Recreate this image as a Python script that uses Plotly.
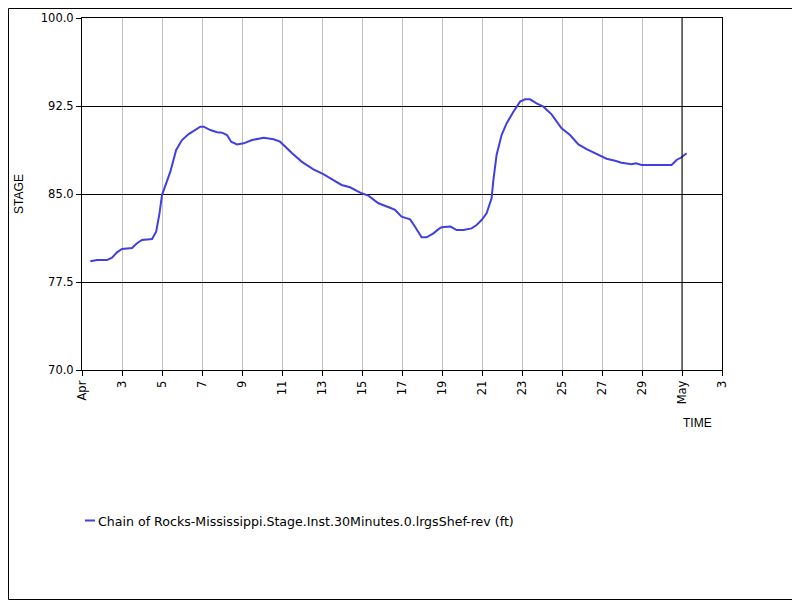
import plotly.graph_objects as go

# stage readings
times = [
    "2024-04-01 10:00", "2024-04-01 18:00", "2024-04-02 06:00", "2024-04-02 12:00",
    "2024-04-02 18:00", "2024-04-03 00:00", "2024-04-03 12:00", "2024-04-03 18:00",
    "2024-04-04 00:00", "2024-04-04 12:00", "2024-04-04 17:00", "2024-04-04 21:00",
    "2024-04-05 00:00", "2024-04-05 06:00", "2024-04-05 10:00", "2024-04-05 17:00",
    "2024-04-06 00:00", "2024-04-06 08:00", "2024-04-06 14:00", "2024-04-06 22:00",
    "2024-04-07 02:00", "2024-04-07 10:00", "2024-04-07 18:00", "2024-04-08 00:00",
    "2024-04-08 06:00", "2024-04-08 11:00", "2024-04-08 18:00", "2024-04-09 02:00",
    "2024-04-09 12:00", "2024-04-10 02:00", "2024-04-10 14:00", "2024-04-10 21:40",
    "2024-04-11 11:30", "2024-04-11 23:30", "2024-04-12 13:40", "2024-04-13 01:40",
    "2024-04-13 13:40", "2024-04-13 23:30", "2024-04-14 09:40", "2024-04-14 23:30",
    "2024-04-15 07:40", "2024-04-15 19:40", "2024-04-16 09:40", "2024-04-16 15:40",
    "2024-04-16 23:30", "2024-04-17 09:40", "2024-04-17 15:40", "2024-04-17 23:30",
    "2024-04-18 05:30", "2024-04-18 13:40", "2024-04-18 21:00", "2024-04-18 23:30",
    "2024-04-19 10:20", "2024-04-19 17:30", "2024-04-20 01:40", "2024-04-20 11:30",
    "2024-04-20 17:30", "2024-04-20 23:30", "2024-04-21 05:30", "2024-04-21 11:30",
    "2024-04-21 13:40", "2024-04-21 17:30", "2024-04-21 23:30", "2024-04-22 05:30",
    "2024-04-22 13:40", "2024-04-22 21:40", "2024-04-23 03:40", "2024-04-23 09:40",
    "2024-04-23 17:30", "2024-04-24 01:40", "2024-04-24 11:30", "2024-04-24 23:30",
    "2024-04-25 09:40", "2024-04-25 19:40", "2024-04-26 05:30", "2024-04-26 13:40",
    "2024-04-26 23:30", "2024-04-27 05:30", "2024-04-27 15:40", "2024-04-27 23:30",
    "2024-04-28 11:30", "2024-04-28 16:50", "2024-04-28 23:30", "2024-04-30 11:30",
    "2024-04-30 17:30", "2024-04-30 23:30", "2024-05-01 05:30",
]
stage = [
    79.26, 79.37, 79.37, 79.57,
    80.03, 80.31, 80.40, 80.80,
    81.08, 81.16, 81.79, 83.35,
    84.91, 86.19, 86.90, 88.75,
    89.60, 90.11, 90.40, 90.74,
    90.74, 90.45, 90.26, 90.23,
    90.03, 89.46, 89.23, 89.32,
    89.60, 89.80, 89.66, 89.46,
    88.52, 87.76, 87.10, 86.70,
    86.19, 85.77, 85.57, 85.06,
    84.86, 84.21, 83.83, 83.64,
    83.07, 82.84, 82.21, 81.31,
    81.31, 81.65, 82.07, 82.16,
    82.22, 81.93, 81.93, 82.07,
    82.36, 82.78, 83.35, 84.63,
    86.19, 88.32, 90.03, 91.02,
    92.01, 92.87, 93.07, 93.07,
    92.73, 92.44, 91.79, 90.60,
    90.03, 89.23, 88.83, 88.55,
    88.24, 88.01, 87.84, 87.67,
    87.53, 87.61, 87.47, 87.47,
    87.90, 88.13, 88.47,
]
series_name = "Chain of Rocks-Mississippi.Stage.Inst.30Minutes.0.lrgsShef-rev (ft)"

tick_days = ["2024-04-%02d" % d for d in range(1, 31, 2)] + ["2024-05-01", "2024-05-03"]
tick_text = ["Apr"] + [str(d) for d in range(3, 31, 2)] + ["May", "3"]
y_ticks = [70.0, 77.5, 85.0, 92.5, 100.0]

tick_font = dict(family="DejaVu Sans", size=11.5, color="black")
title_font = dict(family="Liberation Sans", size=12, color="black")
legend_font = dict(family="DejaVu Sans", size=12.6, color="black")
line_color = "#4040E0"

# page has an 8px body margin, so the figure is 792x592 and margins are shifted
W, H = 792, 592
ML, MR, MT, MB = 74, 78, 10, 230
PW, PH = W - ML - MR, H - MT - MB


def px(x):
    # page x pixel -> paper coordinate
    return (x - 8 - ML) / PW


def py(y):
    # page y pixel -> paper coordinate
    return (H - MB + 8 - y) / PH


fig = go.Figure()
fig.add_trace(go.Scatter(
    x=times, y=stage, mode="lines", name=series_name,
    line=dict(color=line_color, width=2), showlegend=False,
))

fig.update_layout(
    width=W, height=H,
    margin=dict(l=ML, r=MR, t=MT, b=MB),
    paper_bgcolor="white", plot_bgcolor="white",
    font=tick_font,
    xaxis=dict(
        range=["2024-04-01", "2024-05-03"],
        tickvals=tick_days, ticktext=tick_text, tickangle=-90,
        showgrid=True, gridcolor="#c0c0c0", gridwidth=1,
        showline=True, linecolor="black", linewidth=1, mirror=True,
        ticks="outside", ticklen=5, tickcolor="black",
        zeroline=False, automargin=False, tickfont=tick_font,
    ),
    yaxis=dict(
        range=[70, 100], tickvals=y_ticks, tickformat=".1f",
        showgrid=True, gridcolor="black", gridwidth=1,
        showline=True, linecolor="black", linewidth=1, mirror=True,
        ticks="outside", ticklen=5, tickcolor="black",
        zeroline=False, automargin=False, tickfont=tick_font,
        title=dict(text="STAGE", standoff=14, font=title_font),
    ),
)

# month boundary line
fig.add_shape(type="line", xref="x", yref="paper", x0="2024-05-01", x1="2024-05-01",
              y0=0, y1=1, line=dict(color="black", width=1))

# axis title under the month label
fig.add_annotation(text="TIME", xref="paper", yref="paper", x=px(681), y=py(423.5),
                   xanchor="left", yanchor="middle", showarrow=False, font=title_font)

# legend
fig.add_shape(type="line", xref="paper", yref="paper",
              x0=px(85), x1=px(95), y0=py(520.5), y1=py(520.5),
              line=dict(color=line_color, width=2))
fig.add_annotation(text=series_name, xref="paper", yref="paper", x=px(96), y=py(521),
                   xanchor="left", yanchor="middle", showarrow=False, font=legend_font)

# outer frame
fig.add_shape(type="rect", xref="paper", yref="paper",
              x0=px(8.5), x1=px(799.5), y0=py(599.5), y1=py(8.5),
              line=dict(color="black", width=1))

fig.write_html("out.html")
